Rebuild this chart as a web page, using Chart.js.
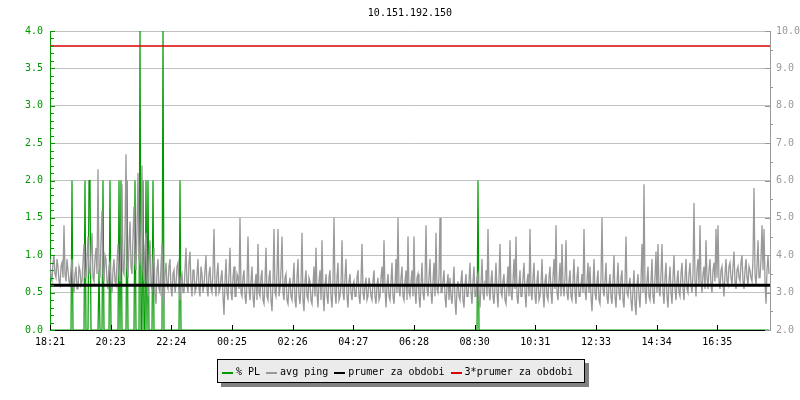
<!DOCTYPE html>
<html>
<head>
<meta charset="utf-8">
<script src="https://cdn.jsdelivr.net/npm/chart.js@4.4.1/dist/chart.umd.min.js"></script>
<style>
  body { margin: 0; background: #fff; }
  #wrap { position: relative; width: 800px; height: 400px; font-family: 'DejaVu Sans Mono', monospace; font-size: 10px; }
  #title { position: absolute; top: 6px; left: 310px; width: 200px; text-align: center; line-height: 14px; color: #000; }
  #legend {
    position: absolute; left: 217px; top: 359px; width: 362px; height: 22px;
    background: #ebebeb; border: 1px solid #000; box-shadow: 4px 4px 0 #808080;
    display: flex; align-items: center; padding-left: 4px; box-sizing: content-box;
  }
  #legend .item { display: flex; align-items: center; margin-right: 6px; white-space: pre; }
  #legend .sw { width: 11px; height: 2px; margin-right: 3px; margin-top: 3px; }
</style>
</head>
<body>
<div id="wrap">
  <canvas id="chart" width="800" height="400"></canvas>
  <div id="title">10.151.192.150</div>
  <div id="legend"></div>
</div>
<script>
// time axis: minutes since 18:21, ping samples every 2 minutes (even + odd arrays)
const sampleMin = 4;
const plStepMin = 2;
const xTickLabels = ['18:21', '20:23', '22:24', '00:25', '02:26', '04:27', '06:28', '08:30', '10:31', '12:33', '14:34', '16:35'];
const xTickStepMin = 121.33;

// avg ping (ms), right axis - samples at minute i*4
const pingMs = [
  3.9, 3.3, 4.0, 3.4, 3.7, 3.2, 3.8, 4.8, 3.3, 3.6,
  3.2, 3.9, 3.0, 3.7, 3.1, 3.6, 3.3, 4.3, 3.4, 4.5,
  3.5, 4.6, 3.3, 4.2, 6.3, 3.4, 5.2, 3.3, 3.9, 3.1,
  3.8, 3.0, 3.9, 3.2, 4.3, 3.3, 5.9, 3.5, 6.7, 3.4,
  4.9, 3.5, 5.3, 3.6, 6.2, 3.8, 6.4, 3.3, 4.6, 2.9,
  4.4, 3.1, 4.2, 2.7, 3.9, 3.0, 4.3, 2.6, 3.8, 3.1,
  3.9, 2.9, 3.6, 3.2, 3.8, 2.8, 3.5, 3.0, 4.2, 3.0,
  4.1, 2.9, 3.6, 3.1, 3.9, 2.9, 3.5, 3.2, 4.0, 2.9,
  3.7, 3.0, 4.7, 2.9, 3.8, 3.1, 3.6, 2.4, 3.9, 2.8,
  4.2, 2.8, 3.7, 2.9, 3.4, 5.0, 2.9, 3.6, 2.7, 4.5,
  2.8, 3.7, 2.6, 3.5, 4.3, 2.9, 3.6, 2.7, 4.2, 2.8,
  3.6, 2.5, 4.7, 2.9, 4.7, 3.1, 4.5, 2.8, 3.5, 2.7,
  3.4, 2.8, 3.8, 2.6, 3.9, 2.7, 4.6, 2.5, 3.6, 2.8,
  3.3, 2.7, 3.7, 4.2, 2.6, 3.6, 4.4, 2.5, 3.5, 2.7,
  3.6, 2.6, 5.0, 2.7, 3.8, 2.9, 4.4, 2.8, 3.9, 2.6,
  3.5, 2.8, 3.3, 2.9, 3.6, 2.7, 4.3, 2.8, 3.4, 2.9,
  3.2, 2.8, 3.6, 2.7, 3.4, 2.9, 3.7, 4.4, 2.6, 3.5,
  2.8, 3.8, 2.7, 3.9, 5.0, 2.9, 3.7, 2.8, 3.6, 4.5,
  2.9, 3.6, 4.5, 2.7, 3.5, 2.6, 3.8, 2.8, 4.8, 2.9,
  3.9, 2.7, 3.8, 4.6, 3.0, 5.0, 3.0, 3.6, 2.6, 3.5,
  3.4, 2.7, 3.7, 2.4, 3.3, 2.8, 3.6, 2.6, 3.5, 2.9,
  3.8, 2.7, 3.7, 2.9, 3.5, 2.6, 3.9, 2.8, 3.6, 4.7,
  2.8, 3.6, 2.7, 3.8, 2.6, 4.3, 2.9, 3.5, 2.7, 3.7,
  4.4, 2.8, 3.9, 4.5, 2.7, 3.6, 2.9, 3.8, 2.6, 3.5,
  4.7, 2.8, 3.8, 2.7, 3.6, 2.9, 3.9, 2.6, 3.5, 2.8,
  3.7, 2.7, 3.9, 4.8, 2.8, 3.8, 4.3, 2.9, 4.4, 2.8,
  3.6, 2.8, 3.9, 2.7, 3.7, 2.9, 3.5, 4.7, 2.8, 3.8,
  3.7, 2.5, 3.9, 2.8, 3.6, 2.7, 5.0, 2.9, 3.8, 2.7,
  3.5, 2.7, 4.0, 2.6, 3.8, 2.8, 3.6, 2.6, 4.5, 2.9,
  3.4, 2.5, 3.6, 2.4, 3.5, 2.6, 4.3, 5.9, 2.7, 3.7,
  2.8, 3.9, 2.7, 4.1, 4.3, 2.9, 4.3, 2.7, 3.8, 2.6,
  3.7, 2.7, 4.0, 2.8, 3.6, 2.9, 3.8, 2.8, 3.9, 3.0,
  3.8, 3.0, 5.4, 2.9, 3.9, 4.8, 3.0, 3.7, 4.4, 3.1,
  3.9, 3.0, 3.8, 4.7, 4.8, 3.1, 3.7, 2.9, 3.9, 3.2,
  3.8, 3.2, 4.1, 3.1, 3.7, 3.3, 4.0, 3.1, 3.9, 3.2,
  3.6, 3.3, 5.8, 3.2, 4.4, 3.4, 4.8, 4.7, 2.7, 4.0
];

// avg ping (ms) - samples at minute i*4 + 2
const pingMsOdd = [
  3.4, 3.8, 3.5, 3.9, 3.3, 3.7, 3.4, 3.5, 3.9, 3.3,
  3.6, 3.2, 3.5, 3.1, 3.7, 3.2, 3.8, 3.4, 3.9, 3.5,
  4.1, 3.4, 3.9, 3.5, 3.6, 4.4, 3.5, 4.0, 3.3, 3.7,
  3.2, 3.6, 3.3, 3.8, 3.5, 4.2, 3.6, 4.5, 3.7, 4.3,
  3.7, 4.5, 3.8, 4.7, 3.9, 4.6, 3.6, 4.2, 3.4, 3.9,
  3.2, 3.8, 3.0, 3.6, 3.1, 3.7, 2.9, 3.5, 3.2, 3.7,
  3.1, 3.5, 3.0, 3.7, 3.1, 3.4, 3.0, 3.6, 3.2, 3.8,
  3.2, 3.6, 3.0, 3.5, 3.1, 3.7, 3.0, 3.6, 3.1, 3.5,
  3.1, 3.6, 3.2, 3.5, 3.0, 3.4, 2.9, 3.3, 3.0, 3.5,
  3.0, 3.4, 2.9, 3.5, 3.1, 3.0, 3.4, 2.9, 3.3, 3.1,
  3.3, 2.9, 3.2, 2.8, 3.0, 3.4, 2.8, 3.3, 2.9, 3.4,
  2.8, 3.3, 3.0, 3.5, 2.9, 3.6, 3.0, 3.4, 2.8, 3.2,
  2.9, 3.3, 2.8, 3.4, 2.9, 3.2, 2.8, 3.3, 2.9, 3.4,
  2.8, 3.2, 2.9, 3.0, 3.3, 2.8, 3.0, 3.2, 2.9, 3.4,
  2.9, 3.3, 3.0, 3.4, 2.8, 3.2, 3.0, 3.4, 2.9, 3.3,
  3.0, 3.2, 2.9, 3.4, 2.9, 3.3, 3.0, 3.2, 2.8, 3.4,
  2.9, 3.3, 2.9, 3.2, 2.8, 3.4, 3.0, 3.1, 3.2, 2.9,
  3.3, 2.9, 3.2, 3.0, 3.1, 3.4, 2.9, 3.3, 2.8, 3.0,
  3.3, 2.9, 3.0, 3.4, 2.9, 3.2, 3.0, 3.3, 3.1, 3.4,
  3.0, 3.3, 2.9, 3.1, 3.4, 3.0, 3.3, 2.9, 3.2, 2.8,
  2.9, 3.2, 2.8, 3.1, 2.9, 3.3, 2.8, 3.2, 2.9, 3.3,
  3.0, 3.3, 2.9, 3.4, 2.8, 3.2, 3.0, 3.3, 2.9, 3.1,
  3.3, 2.9, 3.2, 3.0, 3.4, 3.0, 3.3, 2.8, 3.2, 2.9,
  3.0, 3.3, 3.1, 2.9, 3.2, 2.9, 3.4, 3.0, 3.3, 2.9,
  3.0, 3.4, 2.9, 3.3, 2.8, 3.2, 3.0, 3.3, 2.9, 3.4,
  3.0, 3.4, 3.1, 3.0, 3.3, 2.9, 3.2, 3.4, 3.0, 3.3,
  2.9, 3.3, 3.0, 3.4, 2.9, 3.2, 3.0, 3.1, 3.3, 3.0,
  2.9, 3.2, 3.0, 3.3, 2.8, 3.4, 3.1, 3.3, 2.9, 3.2,
  2.9, 3.3, 2.9, 3.2, 3.0, 3.4, 2.8, 3.3, 3.0, 3.2,
  2.8, 3.1, 2.7, 3.2, 2.9, 3.3, 3.0, 3.1, 3.3, 2.9,
  3.3, 2.9, 3.4, 3.0, 3.1, 3.5, 3.0, 3.4, 2.9, 3.3,
  3.0, 3.4, 3.1, 3.3, 3.0, 3.5, 3.1, 3.4, 3.1, 3.5,
  3.2, 3.5, 3.3, 3.6, 3.2, 3.3, 3.5, 3.1, 3.4, 3.6,
  3.2, 3.6, 3.3, 3.4, 3.3, 3.6, 3.2, 3.5, 3.3, 3.7,
  3.4, 3.7, 3.3, 3.6, 3.4, 3.8, 3.3, 3.6, 3.4, 3.7,
  3.4, 3.9, 3.5, 3.7, 3.4, 3.9, 3.6, 3.3, 3.6, 3.5
];

// packet loss events (minute since start, % PL), left axis; zero elsewhere
const plEventMin = [44, 70, 78, 80, 98, 106, 120, 138, 142, 154, 170, 180, 186, 192, 196, 206, 226, 260, 856];
const plEventPct = [2, 2, 2, 2, 0.8, 2, 2, 2, 2, 2, 2, 4, 2, 2, 2, 2, 4, 2, 2];

// period average ping (ms)
const prumer = 3.2;

const colors = { pl: '#009900', ping: '#999999', avg: '#000000', avg3: '#dd0000' };

const xMax = pingMs.length * sampleMin;

const pingPoints = [];
pingMs.forEach((v, i) => {
  pingPoints.push({ x: i * sampleMin, y: v });
  pingPoints.push({ x: i * sampleMin + sampleMin / 2, y: pingMsOdd[i] });
});

const plPct = [];
for (let m = 0; m < xMax; m += plStepMin) plPct.push(0);
plEventMin.forEach((m, i) => { plPct[m / plStepMin] = plEventPct[i]; });

Chart.defaults.font.family = "'DejaVu Sans Mono', monospace";
Chart.defaults.font.size = 10;

// small tick marks drawn inside the plot (left minor, right, x)
const tickMarks = {
  id: 'tickMarks',
  afterDraw(chart) {
    const { ctx, chartArea: a, scales } = chart;
    ctx.save();
    ctx.lineWidth = 1;
    ctx.strokeStyle = colors.pl;
    for (let k = 0; k <= 40; k++) {
      const py = Math.round(scales.y.getPixelForValue(k / 10)) + 0.5;
      const len = k % 5 === 0 ? 5 : 4;
      ctx.beginPath(); ctx.moveTo(a.left, py); ctx.lineTo(a.left + len, py); ctx.stroke();
    }
    ctx.strokeStyle = '#999999';
    for (let k = 4; k <= 20; k++) {
      const py = Math.round(scales.y1.getPixelForValue(k / 2)) + 0.5;
      ctx.beginPath();
      if (k % 2 === 0) { ctx.moveTo(a.right - 5, py); ctx.lineTo(a.right, py); }
      else { ctx.moveTo(a.right, py); ctx.lineTo(a.right + 3, py); }
      ctx.stroke();
    }
    ctx.strokeStyle = '#000';
    scales.x.ticks.forEach(t => {
      const px = Math.round(scales.x.getPixelForValue(t.value)) + 0.5;
      ctx.beginPath(); ctx.moveTo(px, a.bottom); ctx.lineTo(px, a.bottom - 5); ctx.stroke();
    });
    ctx.restore();
  }
};

const chart = new Chart(document.getElementById('chart'), {
  type: 'line',
  data: {
    datasets: [
      {
        label: '% PL',
        data: plPct.map((v, i) => ({ x: i * plStepMin, y: v })),
        borderColor: colors.pl,
        borderWidth: 1.2,
        yAxisID: 'y',
        order: 3,
      },
      {
        label: 'avg ping',
        data: pingPoints,
        borderColor: colors.ping,
        borderWidth: 1.3,
        yAxisID: 'y1',
        order: 2,
      },
      {
        label: 'prumer za obdobi',
        data: [{ x: 0, y: prumer }, { x: xMax, y: prumer }],
        borderColor: colors.avg,
        borderWidth: 3,
        yAxisID: 'y1',
        order: 0,
      },
      {
        label: '3*prumer za obdobi',
        data: [{ x: 0, y: 3 * prumer }, { x: xMax, y: 3 * prumer }],
        borderColor: colors.avg3,
        borderWidth: 1.5,
        yAxisID: 'y1',
        order: 1,
      },
    ],
  },
  options: {
    responsive: false,
    animation: false,
    devicePixelRatio: 1,
    elements: { point: { radius: 0 }, line: { tension: 0, borderJoinStyle: 'miter' } },
    layout: { padding: { top: 31, bottom: 50, left: 0, right: 0 } },
    plugins: { legend: { display: false }, tooltip: { enabled: false }, title: { display: false } },
    scales: {
      x: {
        type: 'linear',
        min: 0,
        max: xMax,
        z: 1,
        afterFit: s => { s.height = 20; },
        afterBuildTicks: s => { s.ticks = xTickLabels.map((l, i) => ({ value: i * xTickStepMin })); },
        ticks: { color: '#000', padding: 6, autoSkip: false, maxRotation: 0, callback: (v, i) => xTickLabels[i] },
        grid: { drawOnChartArea: false, drawTicks: false },
        border: { color: '#000', width: 1 },
      },
      y: {
        position: 'left',
        min: 0,
        max: 4,
        afterFit: s => { s.width = 50; },
        ticks: { stepSize: 0.5, color: colors.pl, padding: 7, callback: v => v.toFixed(1) },
        grid: { color: '#c0c0c0', drawTicks: false },
        border: { color: colors.pl, width: 1 },
      },
      y1: {
        position: 'right',
        min: 2,
        max: 10,
        afterFit: s => { s.width = 30; },
        ticks: { stepSize: 1, color: '#999999', padding: 6, callback: v => v.toFixed(1) },
        grid: { drawOnChartArea: false, drawTicks: false },
        border: { color: '#999999', width: 1 },
      },
    },
  },
  plugins: [tickMarks],
});

// legend like the original box
const legend = document.getElementById('legend');
chart.data.datasets.forEach(ds => {
  const item = document.createElement('div');
  item.className = 'item';
  const sw = document.createElement('span');
  sw.className = 'sw';
  sw.style.background = ds.borderColor;
  item.appendChild(sw);
  item.appendChild(document.createTextNode(ds.label));
  legend.appendChild(item);
});
</script>
</body>
</html>
